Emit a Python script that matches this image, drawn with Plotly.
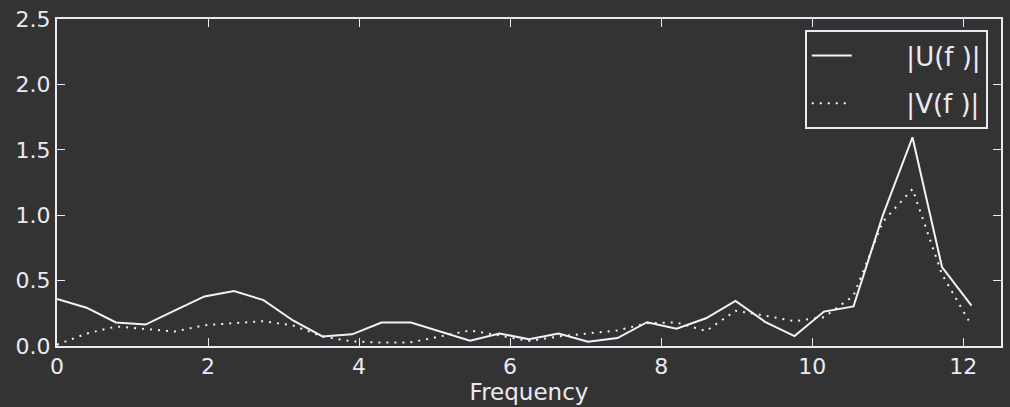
import numpy as np
import plotly.graph_objects as go

# Frequency bins (32 positive bins, spacing 12.5/32)
freq = np.arange(32) * 12.5 / 32

u_mag = [0.359, 0.293, 0.180, 0.164, 0.272, 0.379, 0.420, 0.351,
         0.195, 0.073, 0.089, 0.180, 0.180, 0.111, 0.041, 0.096,
         0.051, 0.096, 0.033, 0.061, 0.182, 0.132, 0.212, 0.344,
         0.185, 0.076, 0.263, 0.303, 1.003, 1.596, 0.604, 0.308]

v_mag = [0.010, 0.095, 0.149, 0.132, 0.111, 0.159, 0.174, 0.190,
         0.157, 0.073, 0.035, 0.026, 0.028, 0.076, 0.119, 0.081,
         0.038, 0.073, 0.094, 0.119, 0.174, 0.180, 0.114, 0.270,
         0.232, 0.190, 0.220, 0.384, 0.952, 1.200, 0.548, 0.157]

x_ticks = [0, 2, 4, 6, 8, 10, 12]
y_ticks = [0.0, 0.5, 1.0, 1.5, 2.0, 2.5]
y_tick_text = ["0.0", "0.5", "1.0", "1.5", "2.0", "2.5"]

bg = "#333333"
fg = "#ebe9f4"
line_col = "#f3f1fb"
font_family = "DejaVu Sans"

fig = go.Figure()
fig.add_trace(go.Scatter(
    x=freq, y=u_mag, mode="lines", name="      |U(f )|", legendgroup="u",
    line=dict(color=line_col, width=2),
))
fig.add_trace(go.Scatter(
    x=freq, y=v_mag, mode="lines", name="      |V(f )|", legendgroup="v",
    line=dict(color=line_col, width=2, dash="2px,6px"),
))

axis_common = dict(
    showgrid=False, zeroline=False,
    showline=True, linecolor=fg, linewidth=2, mirror="allticks",
    ticks="inside", ticklen=8, tickwidth=1, tickcolor=fg,
    tickfont=dict(family=font_family, size=22, color=fg),
)

fig.update_layout(
    width=1010, height=407,
    paper_bgcolor=bg, plot_bgcolor=bg,
    margin=dict(l=57, r=7, t=16, b=61),
    font=dict(family=font_family, color=fg),
    xaxis=dict(
        range=[0, 12.5], tickvals=x_ticks,
        title=dict(text="Frequency", font=dict(family=font_family, size=23, color=fg), standoff=2),
        **axis_common,
    ),
    yaxis=dict(
        range=[0, 2.5], tickvals=y_ticks, ticktext=y_tick_text,
        **axis_common,
    ),
    legend=dict(
        x=0.986, y=0.966, xanchor="right", yanchor="top",
        bgcolor=bg, bordercolor=fg, borderwidth=2,
        font=dict(family=font_family, size=26, color=fg),
        itemwidth=40,
        tracegroupgap=11,
    ),
    showlegend=True,
)

fig.write_html("out.html")
